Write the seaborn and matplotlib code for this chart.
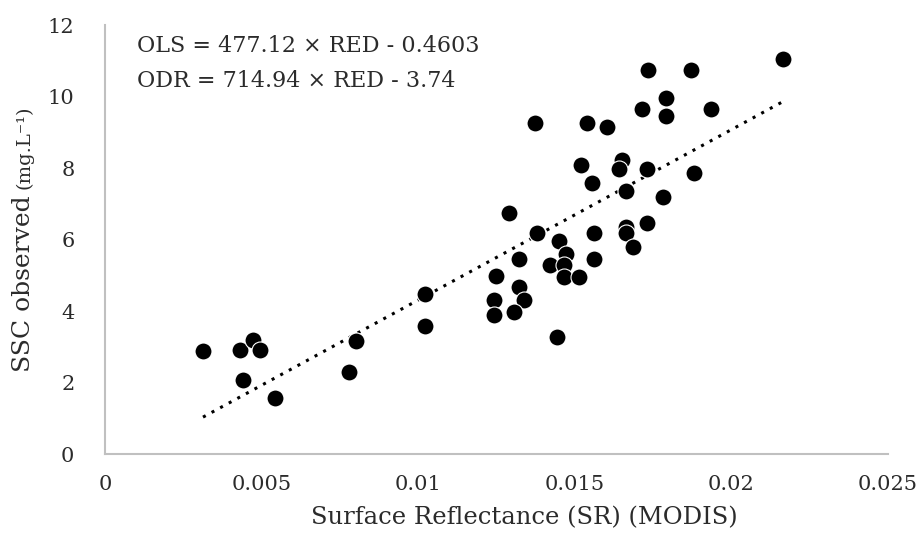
import numpy as np
import pandas as pd
import matplotlib
matplotlib.use('Agg')
import matplotlib.pyplot as plt
import seaborn as sns
from matplotlib.ticker import MultipleLocator, FuncFormatter

# Surface reflectance (MODIS red band) vs observed SSC
sr = [0.00313, 0.00431, 0.00473, 0.00494, 0.00440, 0.00542, 0.00779, 0.00802,
      0.01022, 0.01022, 0.01373, 0.01290, 0.01380, 0.01248, 0.01323, 0.01242,
      0.01242, 0.01323, 0.01339, 0.01307, 0.01442, 0.01450, 0.01471, 0.01421,
      0.01464, 0.01464, 0.01514, 0.01562, 0.01562, 0.01519, 0.01554, 0.01540,
      0.01602, 0.01650, 0.01641, 0.01663, 0.01663, 0.01663, 0.01685, 0.01731,
      0.01731, 0.01714, 0.01790, 0.01790, 0.01782, 0.01880, 0.01934, 0.01733,
      0.01872, 0.02164]
ssc = [2.88, 2.90, 3.20, 2.90, 2.07, 1.57, 2.30, 3.17,
       4.48, 3.58, 9.26, 6.76, 6.19, 4.98, 5.47, 4.30,
       3.89, 4.68, 4.30, 3.97, 3.28, 5.97, 5.61, 5.28,
       5.30, 4.96, 4.96, 6.19, 5.47, 8.09, 7.58, 9.26,
       9.16, 8.23, 7.98, 7.37, 6.35, 6.19, 5.81, 6.47,
       7.98, 9.66, 9.97, 9.46, 7.19, 7.87, 9.66, 10.76,
       10.76, 11.05]

# equations printed on the chart
ols_slope, ols_icpt = 477.12, -0.4603
ols_label = "OLS = 477.12 × RED - 0.4603"
odr_label = "ODR = 714.94 × RED - 3.74"

df = pd.DataFrame({'SR': sr, 'SSC': ssc})

sns.set_style('white')
plt.rcParams['font.family'] = ['DejaVu Serif']
txt_color = '#2b2b2b'

fig = plt.figure(figsize=(9.2, 5.53), dpi=100)
ax = fig.add_axes([0.1141, 0.179, 0.8511, 0.775])

# dotted OLS trendline across the data range
xs = np.array([df['SR'].min(), df['SR'].max()])
ax.plot(xs, ols_slope * xs + ols_icpt, color='black', linestyle=(0, (1, 2.2)),
        linewidth=2.2, zorder=1)

sns.scatterplot(data=df, x='SR', y='SSC', ax=ax, s=150, color='black',
                edgecolor='white', linewidth=0.8, zorder=2)

ax.set_xlim(0, 0.025)
ax.set_ylim(0, 12)
ax.xaxis.set_major_locator(MultipleLocator(0.005))
ax.yaxis.set_major_locator(MultipleLocator(2))
ax.xaxis.set_major_formatter(FuncFormatter(lambda v, p: f'{v:g}'))
ax.tick_params(axis='both', length=0, labelsize=15, colors=txt_color)
ax.tick_params(axis='x', pad=15)
ax.tick_params(axis='y', pad=22)

for side in ['top', 'right']:
    ax.spines[side].set_visible(False)
for side in ['left', 'bottom']:
    ax.spines[side].set_color('#c0c0c0')
    ax.spines[side].set_linewidth(1.5)

ax.set_xlabel('Surface Reflectance (SR) (MODIS)', fontsize=17.5, color=txt_color,
              labelpad=9, x=0.536)
ax.set_ylabel('')

# y label: main part, then the smaller unit part right after it
ylab = fig.text(0.025, 1 - 372 / 553, 'SSC observed', rotation=90,
                rotation_mode='anchor', ha='left', va='center', fontsize=18,
                color=txt_color)
fig.canvas.draw()
bb = ylab.get_window_extent(fig.canvas.get_renderer())
fig.text(0.026, (bb.y1 + 6) / fig.bbox.height, '(mg.L⁻¹)', rotation=90,
         rotation_mode='anchor', ha='left', va='center', fontsize=14,
         color=txt_color)

ax.text(0.041, 0.952, ols_label, transform=ax.transAxes, fontsize=16,
        color=txt_color, va='center')
ax.text(0.041, 0.870, odr_label, transform=ax.transAxes, fontsize=16,
        color=txt_color, va='center')

fig.savefig('out.png', dpi=100)
